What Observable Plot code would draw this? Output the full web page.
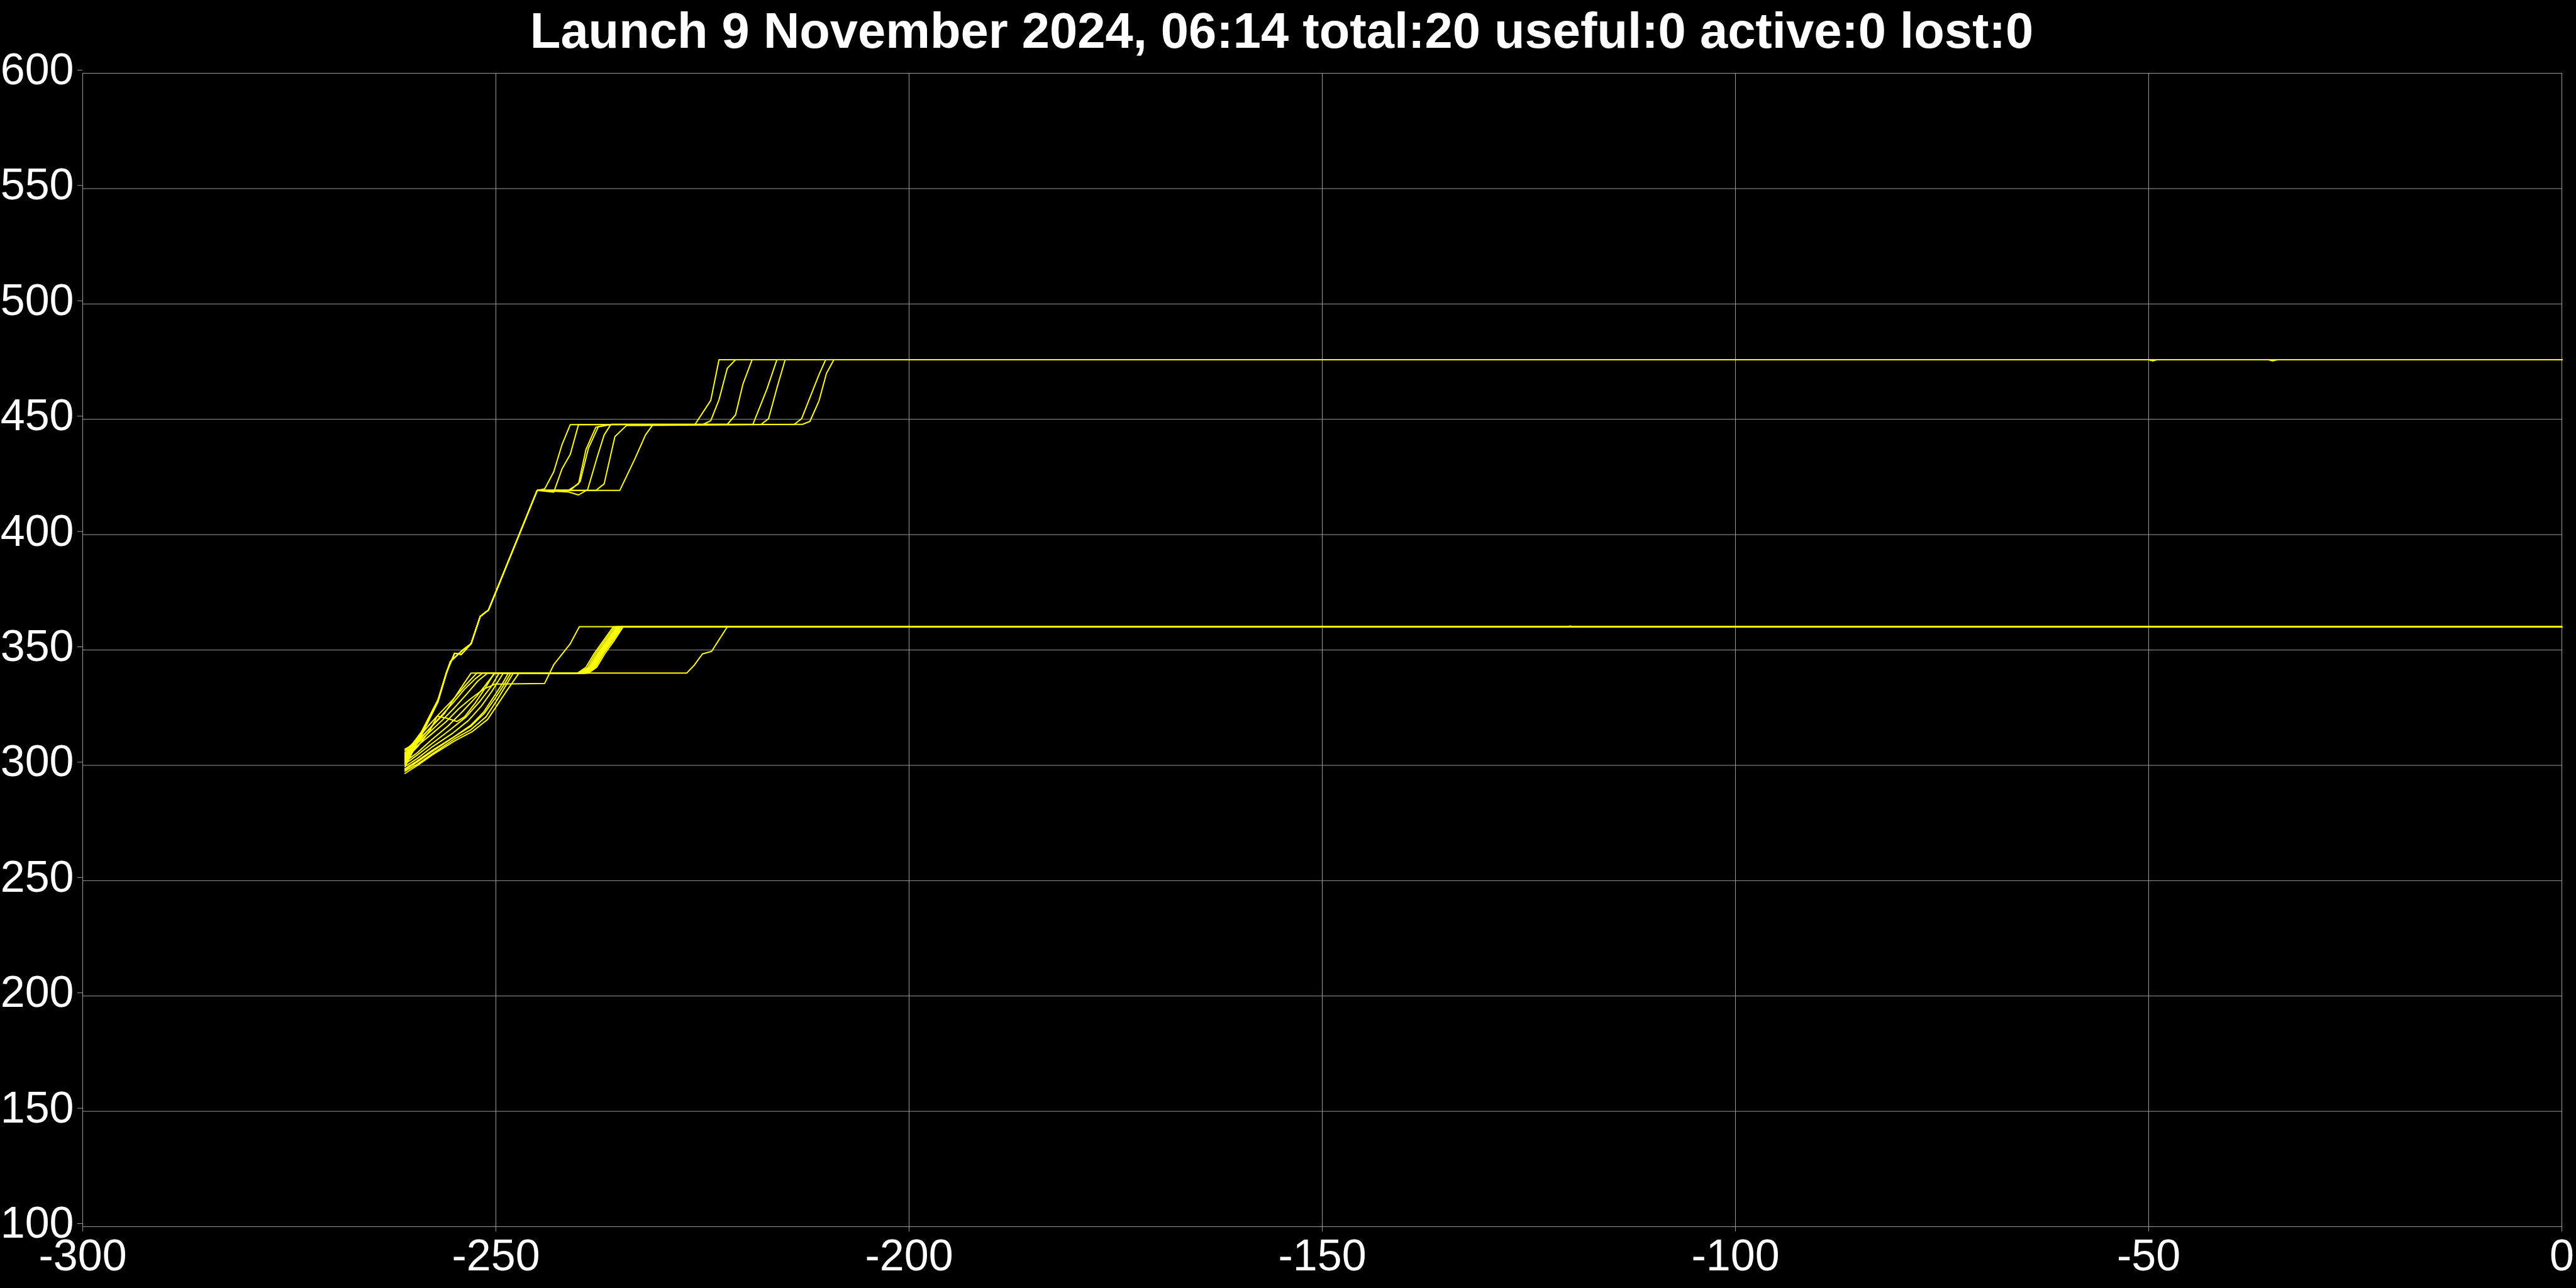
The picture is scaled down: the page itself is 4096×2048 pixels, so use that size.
<!DOCTYPE html>
<html>
<head>
<meta charset="utf-8">
<script src="https://cdn.jsdelivr.net/npm/d3@7"></script>
<script src="https://cdn.jsdelivr.net/npm/@observablehq/plot@0.6"></script>
<style>
  html, body { margin: 0; padding: 0; background: #000; }
  #title {
    box-sizing: border-box; height: 80px; width: 4076px; padding-top: 9px;
    color: #fff; font: bold 79.5px "Liberation Sans", Arial, sans-serif; line-height: 80px;
    text-align: center; white-space: nowrap; overflow: visible; position: relative; z-index: 2;
  }
  #chart svg { display: block; }
</style>
</head>
<body>
<div id="title">Launch 9 November 2024, 06:14 total:20 useful:0 active:0 lost:0</div>
<div id="chart"></div>
<script>
// Axis ticks
const xTicks = [-300, -250, -200, -150, -100, -50, 0];
const yTicks = [100, 150, 200, 250, 300, 350, 400, 450, 500, 550, 600];

// Upper group (7 satellites): [day, altitude km]
const u1 = [[-261,303],[-259,314],[-257,328],[-256,340],[-255,348.6],[-254.2,348],[-253,352.7],[-251.9,364.5],[-250.9,367.3],[-250.1,374.3],[-245,419.2],[-244.1,419.8],[-243,427.2],[-242,439],[-241,447.7],[-225.9,447.8],[-224,458.2],[-223,475.8],[0,475.8]];
const u2 = [[-261,301],[-259,313.5],[-257,328],[-256,340],[-255,348.6],[-254.2,348],[-253,352.7],[-251.9,364.5],[-250.9,367.3],[-250.1,374.3],[-245,419.2],[-243,418.4],[-242,428.5],[-241,434.8],[-240,447.7],[-224.9,447.8],[-224,449.4],[-223,458.5],[-222,472.1],[-221,475.8],[0,475.8]];
const u3 = [[-261,305],[-259,314.5],[-257,328.5],[-256,340],[-255.5,345],[-254,350],[-253,352.7],[-251.9,364.5],[-250.9,367.3],[-250.1,374.3],[-245,419.2],[-241.2,419.3],[-240,422],[-239.1,436.9],[-237.9,446.6],[-236,447.8],[-222,447.8],[-221,451.9],[-220.1,465.3],[-219,475.8],[0,475.8]];
const u4 = [[-261,299.5],[-259,313],[-257,327.5],[-256,339.5],[-255.5,345],[-254,350],[-253,352.7],[-251.9,364.5],[-250.9,367.3],[-250.1,374.3],[-245,419.2],[-241,419.2],[-239.8,423],[-238.8,437.5],[-237.6,446.8],[-236,447.8],[-218.9,447.8],[-217.2,463.1],[-216,475.8],[0,475.8]];
const u5 = [[-261,302],[-259,314],[-257,328],[-256,340],[-255,348.6],[-254.2,348],[-253,352.7],[-251.9,364.5],[-250.9,367.3],[-250.1,374.3],[-245,419.2],[-241.2,418.5],[-240,417.2],[-238.9,419.5],[-237.7,434.1],[-236.9,443.2],[-236.1,447.7],[-217.9,447.8],[-217,450.3],[-216,463.5],[-215,475.8],[0,475.8]];
const u6 = [[-261,304],[-259,314.5],[-257,328.5],[-256,340],[-255.5,345],[-254,350],[-253,352.7],[-251.9,364.5],[-250.9,367.3],[-250.1,374.3],[-245,419.2],[-237.9,419.2],[-236.9,422],[-235.6,442.5],[-234.2,447.3],[-213.9,447.8],[-213,450.3],[-210.9,469.4],[-210.1,475.8],[-50,475.8],[-49.5,475.3],[-49,475.8],[0,475.8]];
const u7 = [[-261,300.5],[-259,313.5],[-257,328],[-256,340],[-255.5,345],[-254,350],[-253,352.7],[-251.9,364.5],[-250.9,367.3],[-250.1,374.3],[-245,419.2],[-235,419.2],[-233.2,432.7],[-231.9,443.2],[-231,447.7],[-212.9,447.8],[-212,449.1],[-210.9,458],[-210,469.9],[-209.1,475.8],[-35.5,475.8],[-35,475.3],[-34.4,475.8],[0,475.8]];

// Lower group (13 satellites)
const l1 = [[-261,307],[-259.5,310],[-258,316],[-256.2,322.6],[-254.4,332.6],[-253,340],[-240.1,340],[-239.1,342.5],[-238.1,348.5],[-237,354],[-235.8,360],[0,360]];
const l2 = [[-261,306.3],[-259.6,311],[-258.2,317],[-256.8,322.5],[-255.2,328.5],[-253.6,335],[-252.3,340],[-239.9,340],[-238.9,342.3],[-237.9,348.5],[-236.8,354],[-235.6,360],[0,360]];
const l3 = [[-261,305.5],[-259.5,310.5],[-258,316],[-256.6,321.5],[-255.2,327],[-253.8,333],[-252.5,337.5],[-251.6,340],[-239.7,340],[-238.7,342.4],[-237.7,348.5],[-236.6,354],[-235.4,360],[0,360]];
const l4 = [[-261,304.5],[-259.5,309.5],[-258,314.5],[-256.5,319.5],[-255,325],[-253.5,331],[-252.2,336.5],[-251,340],[-239.5,340],[-238.5,342.3],[-237.5,348.5],[-236.4,354],[-235.2,360],[0,360]];
const l5 = [[-261,302.5],[-259.5,308],[-258,315],[-257.1,321.3],[-256,320.5],[-254.7,319],[-253.8,321],[-252.5,327],[-251.2,334],[-250.2,340],[-239.3,340],[-238.3,342.3],[-237.3,348.5],[-236.2,354],[-235,360],[0,360]];
const l6 = [[-261,301.5],[-259.5,305.5],[-257.8,311],[-255.8,317],[-254,323.5],[-252.3,330],[-251,336],[-250.1,340],[-239.2,340],[-238.2,342.4],[-237.2,348.6],[-236.1,354],[-234.9,360],[0,360]];
const l7 = [[-261,300.5],[-259.5,304.5],[-257.7,309.5],[-255.5,315.5],[-253.6,321],[-252,327.5],[-250.6,334],[-249.6,340],[-239,340],[-238,342.3],[-237,348.5],[-235.9,354],[-234.7,360],[0,360]];
const l8 = [[-261,299.5],[-259.5,303],[-257.7,308],[-255.2,314],[-253.3,319.5],[-251.8,325.5],[-250.5,332],[-249.1,340],[-239.4,340],[-238.4,342.4],[-237.4,348.5],[-236.3,354],[-235.1,360],[0,360]];
const l9 = [[-261,298.5],[-259.5,302],[-257.7,306.5],[-255,312.5],[-253,317.5],[-251.5,323],[-250.3,329.5],[-249.2,335.5],[-248.5,340],[-238.8,340],[-237.8,342.5],[-236.8,348.5],[-235.7,354],[-234.6,360],[0,360]];
const l10 = [[-261,297.5],[-259.5,300.5],[-257.7,305],[-255,311.5],[-253,315.5],[-251.2,321],[-250,327.5],[-248.9,334],[-247.9,340],[-239.6,340],[-238.6,342.4],[-237.6,348.6],[-236.5,354],[-235.3,360],[0,360]];
const l11 = [[-261,296.5],[-259.5,299.9],[-257.7,304.5],[-254.9,310.8],[-252.9,314.5],[-251,319.9],[-249.8,326.3],[-248.8,331.7],[-247.2,340],[-239.1,340],[-238.1,342.5],[-237.1,348.5],[-236,354],[-234.9,360],[-120.5,360],[-120,360.4],[-119.5,360],[0,360]];
const l12 = [[-261,303.5],[-259.5,308.5],[-257.8,313.5],[-256,319],[-254.5,324.5],[-253,329],[-251.5,333],[-250.1,335.2],[-244.1,335.5],[-243,343.6],[-241,352.7],[-239.9,360.1],[0,360]];
const l13 = [[-261,298],[-259.5,301.5],[-257.7,306],[-255,312.5],[-253,317],[-251.4,322.5],[-250.1,329],[-249,335],[-248.2,340],[-226.9,340],[-226,343.4],[-225,348.3],[-223.9,349.4],[-222,360],[0,360]];

const series = {u1,u2,u3,u4,u5,u6,u7,l1,l2,l3,l4,l5,l6,l7,l8,l9,l10,l11,l12,l13};
const rows = Object.entries(series).flatMap(([sat, pts]) => pts.map(([day, alt]) => ({sat, day, alt})));

const grid = "#9a9a9a";
const chart = Plot.plot({
  width: 4096,
  height: 1968,
  marginTop: 36,
  marginBottom: 98,
  marginLeft: 131,
  marginRight: 23,
  x: {domain: [-300, 0]},
  y: {domain: [100, 600]},
  style: {background: "transparent", color: "#fff", fontFamily: "'Liberation Sans', Arial, sans-serif", fontSize: "70px", overflow: "visible"},
  marks: [
    Plot.gridX(xTicks, {stroke: grid, strokeOpacity: 1, strokeWidth: 1}),
    Plot.gridY(yTicks, {stroke: grid, strokeOpacity: 1, strokeWidth: 1}),
    Plot.axisX(xTicks, {tickSize: 8, tickPadding: 12, stroke: grid, fill: "#fff", label: null, tickFormat: d => String(d)}),
    Plot.axisY(yTicks, {tickSize: 8, tickPadding: 6, stroke: grid, fill: "#fff", label: null, dy: -5, tickFormat: d => String(d)}),
    Plot.line(rows, {x: "day", y: "alt", z: "sat", stroke: "#ffff00", strokeWidth: 2})
  ]
});
document.getElementById("chart").appendChild(chart);
</script>
</body>
</html>
